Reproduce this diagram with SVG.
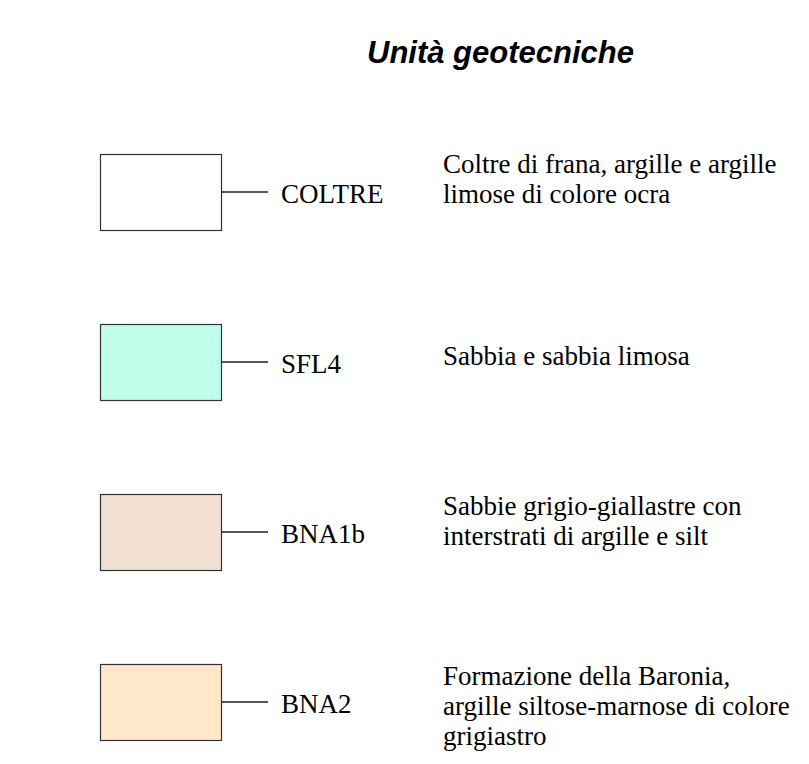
<svg xmlns="http://www.w3.org/2000/svg" width="809" height="764" viewBox="0 0 809 764">
<style>
.box{stroke:#333333;stroke-width:1.2}
.conn line{stroke:#222222;stroke-width:1.3}
.lbl{font-family:"Liberation Serif","Times New Roman",serif;font-size:27px;fill:#000}
.title{font-family:"Liberation Sans",Arial,sans-serif;font-size:31px;font-weight:bold;font-style:italic;fill:#000}
</style>
<rect width="809" height="764" fill="#ffffff"/>
<text class="title" x="367" y="63">Unità geotecniche</text>
<g id="coltre">
<rect class="box" x="100.5" y="154.5" width="121" height="76" fill="#ffffff"/>
<text class="lbl" x="281" y="203">COLTRE</text>
<text class="lbl" x="443" y="173">Coltre di frana, argille e argille</text>
<text class="lbl" x="443" y="203">limose di colore ocra</text>
</g>
<g id="sfl4">
<rect class="box" x="100.5" y="324.5" width="121" height="76" fill="#BFFFEC"/>
<text class="lbl" x="281" y="373">SFL4</text>
<text class="lbl" x="443" y="365">Sabbia e sabbia limosa</text>
</g>
<g id="bna1b">
<rect class="box" x="100.5" y="494.5" width="121" height="76" fill="#F2E0D2"/>
<text class="lbl" x="281" y="543">BNA1b</text>
<text class="lbl" x="443" y="515">Sabbie grigio-giallastre con</text>
<text class="lbl" x="443" y="545">interstrati di argille e silt</text>
</g>
<g id="bna2">
<rect class="box" x="100.5" y="664.5" width="121" height="76" fill="#FFE8CA"/>
<text class="lbl" x="281" y="713">BNA2</text>
<text class="lbl" x="443" y="685">Formazione della Baronia,</text>
<text class="lbl" x="443" y="715">argille siltose-marnose di colore</text>
<text class="lbl" x="443" y="745">grigiastro</text>
</g>
<g id="connectors" class="conn">
<line x1="221.5" y1="192" x2="268" y2="192"/>
<line x1="221.5" y1="362" x2="268" y2="362"/>
<line x1="221.5" y1="532" x2="268" y2="532"/>
<line x1="221.5" y1="702" x2="268" y2="702"/>
</g>
</svg>
